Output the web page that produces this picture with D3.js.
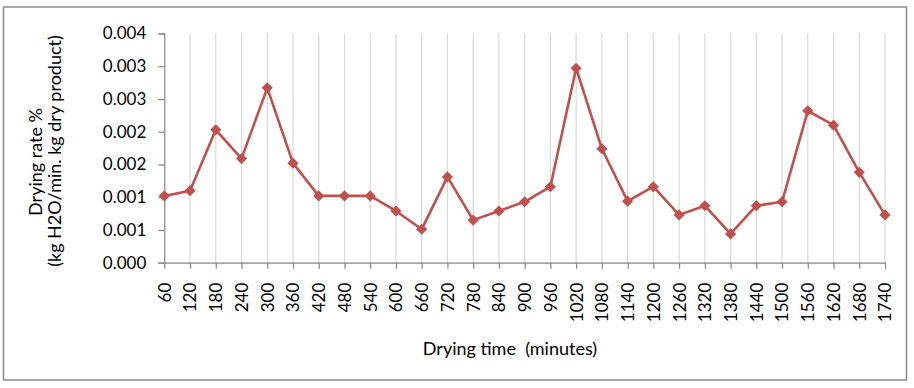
<!DOCTYPE html>
<html><head><meta charset="utf-8">
<script src="https://cdn.jsdelivr.net/npm/d3@7"></script>
<style>body{margin:0;background:#fff}svg{display:block}text{font-family:Lato,"Open Sans",sans-serif;fill:#000;white-space:pre}</style>
</head><body><svg id="c" width="914" height="388"></svg>
<script>
const categories = [60,120,180,240,300,360,420,480,540,600,660,720,780,840,900,960,1020,1080,1140,1200,1260,1320,1380,1440,1500,1560,1620,1680,1740];
const dryingRate = [0.00102,0.00110,0.00203,0.00159,0.00267,0.00152,0.00102,0.00102,0.00102,0.00079,0.00051,0.00131,0.00065,0.00079,0.00093,0.00116,0.00297,0.00174,0.00094,0.00116,0.00073,0.00087,0.00044,0.00087,0.00093,0.00232,0.00210,0.00138,0.00073];
const yTicks = [0,0.0005,0.001,0.0015,0.002,0.0025,0.003,0.0035];
const yTitle = ["Drying rate %","(kg H2O/min. kg dry product)"];
const xTitle = "Drying time  (minutes)";

const svg = d3.select("#c");
const L = 164.3, R = 885, T = 33.5, B = 262.7;
svg.append("rect").attr("x",3.5).attr("y",7).attr("width",903).attr("height",373)
  .attr("fill","#fff").attr("stroke","#8c8c8c").attr("stroke-width",1.5);

const x = d3.scalePoint().domain(categories).range([L,R]);
const y = d3.scaleLinear().domain([0,0.0035]).range([B,T]);

// gridlines
svg.append("g").selectAll("line").data(categories.slice(1)).join("line")
  .attr("x1",d=>x(d)).attr("x2",d=>x(d)).attr("y1",T).attr("y2",B)
  .attr("stroke","#d9d9d9").attr("stroke-width",1.2);

const yAxis = svg.append("g").attr("transform",`translate(${L},0)`)
  .call(d3.axisLeft(y).tickValues(yTicks).tickFormat(d3.format(".3f")).tickSize(6).tickPadding(12));
const xAxis = svg.append("g").attr("transform",`translate(0,${B})`)
  .call(d3.axisBottom(x).tickSize(6).tickSizeOuter(0));
[yAxis,xAxis].forEach(g=>{
  g.select(".domain").attr("stroke","#868686").attr("stroke-width",1.2);
  g.selectAll(".tick line").attr("stroke","#868686").attr("stroke-width",1.2);
  g.selectAll("text").attr("font-family","Lato, sans-serif").attr("fill","#000");
});
yAxis.selectAll("text").attr("font-size",17);
xAxis.selectAll("text").attr("font-size",17)
  .attr("transform","rotate(-90)").attr("text-anchor","end")
  .attr("x",-20).attr("y",0).attr("dy","0.35em");

svg.append("path").datum(dryingRate)
  .attr("d",d3.line().x((d,i)=>x(categories[i])).y(d=>y(d)))
  .attr("fill","none").attr("stroke","#c0504d").attr("stroke-width",2.6).attr("stroke-linejoin","round");
svg.append("g").selectAll("path").data(dryingRate).join("path")
  .attr("d",d3.symbol(d3.symbolSquare,62))
  .attr("transform",(d,i)=>`translate(${x(categories[i])},${y(d)}) rotate(45)`)
  .attr("fill","#c0504d");

svg.append("text").attr("transform","translate(42,162) rotate(-90)").attr("text-anchor","middle")
  .attr("font-size",18).text(yTitle[0]);
svg.append("text").attr("transform","translate(61,151) rotate(-90)").attr("text-anchor","middle")
  .attr("font-size",18).text(yTitle[1]);
svg.append("text").attr("x",510).attr("y",355).attr("text-anchor","middle")
  .attr("font-size",18).text(xTitle);
</script></body></html>
